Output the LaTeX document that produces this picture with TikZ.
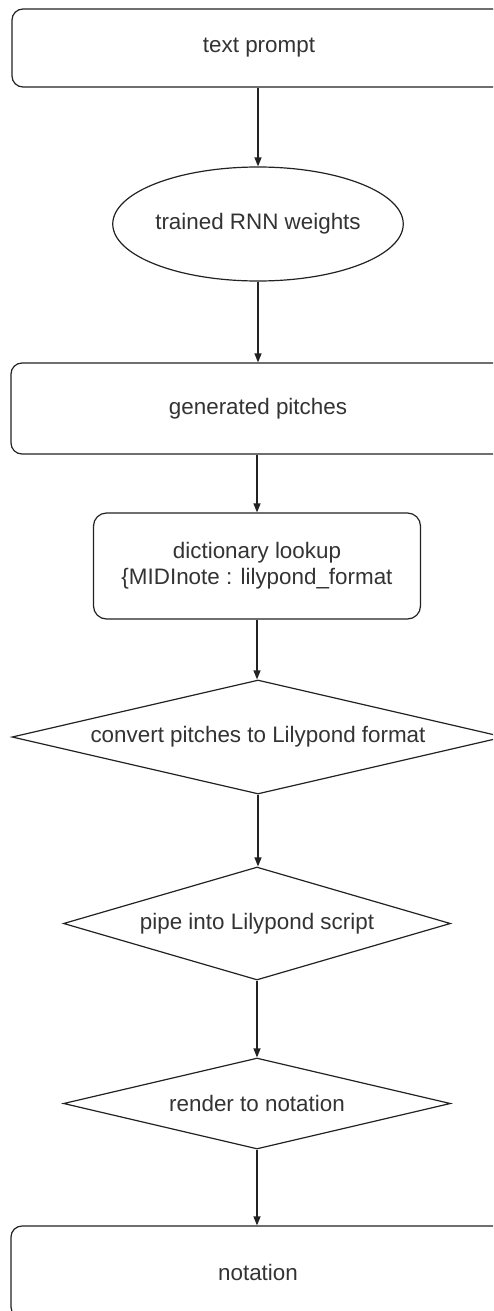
\documentclass[tikz,border=0pt]{standalone}
\usepackage{fontspec}
\setmainfont{Liberation Sans}
\usetikzlibrary{shapes.geometric,arrows.meta}
\definecolor{ink}{HTML}{222222}
\definecolor{txt}{HTML}{333333}
\tikzset{
  base/.style={draw=ink, line width=1.2pt, text=txt, inner sep=0pt,
    font=\fontsize{22.4}{26}\selectfont, align=center},
  roundbox/.style={base, rectangle, rounded corners=11pt},
  oval/.style={base, ellipse},
  decision/.style={base, diamond},
  flow/.style={draw=ink, line width=1.2pt, -{Triangle[length=9pt,width=7pt]}}
}
\begin{document}
\begin{tikzpicture}[x=1pt, y=-1pt]
  \useasboundingbox (0,0) rectangle (493,1311);
  \clip (0,0) rectangle (493,1311);
  \fill[white] (0,0) rectangle (493,1311);

  \node[roundbox, minimum width=494pt, minimum height=78pt] (prompt) at (259,48) {text prompt};
  \node[oval, minimum width=260pt, minimum height=114pt] (rnn) at (258,224) {trained RNN weights};
  \node[roundbox, minimum width=494pt, minimum height=91pt] (pitches) at (258,408.5) {generated pitches};
  \node[roundbox, rounded corners=13pt, minimum width=327pt, minimum height=106pt] (lookup) at (257,566)
    {dictionary lookup\\\{MIDInote : lilypond\_format};
  \node[decision, aspect=4.32, minimum width=492pt, minimum height=114pt] (convert) at (258,737) {convert pitches to Lilypond format};
  \node[decision, aspect=3.42, minimum width=387pt, minimum height=113pt] (pipe) at (257,923.5) {pipe into Lilypond script};
  \node[decision, aspect=4.25, minimum width=387pt, minimum height=91pt] (render) at (257,1103.5) {render to notation};
  \node[roundbox, minimum width=494pt, minimum height=92pt] (notation) at (258,1272) {notation};

  \draw[flow] (prompt.south -| rnn.north) -- (rnn.north);
  \draw[flow] (rnn.south) -- (rnn.south |- pitches.north);
  \draw[flow] (pitches.south -| lookup.north) -- (lookup.north);
  \draw[flow] (lookup.south) -- (convert.north -| lookup.south);
  \draw[flow] (convert.south) -- (pipe.north -| convert.south);
  \draw[flow] (pipe.south) -- (render.north);
  \draw[flow] (render.south) -- (render.south |- notation.north);
\end{tikzpicture}
\end{document}
